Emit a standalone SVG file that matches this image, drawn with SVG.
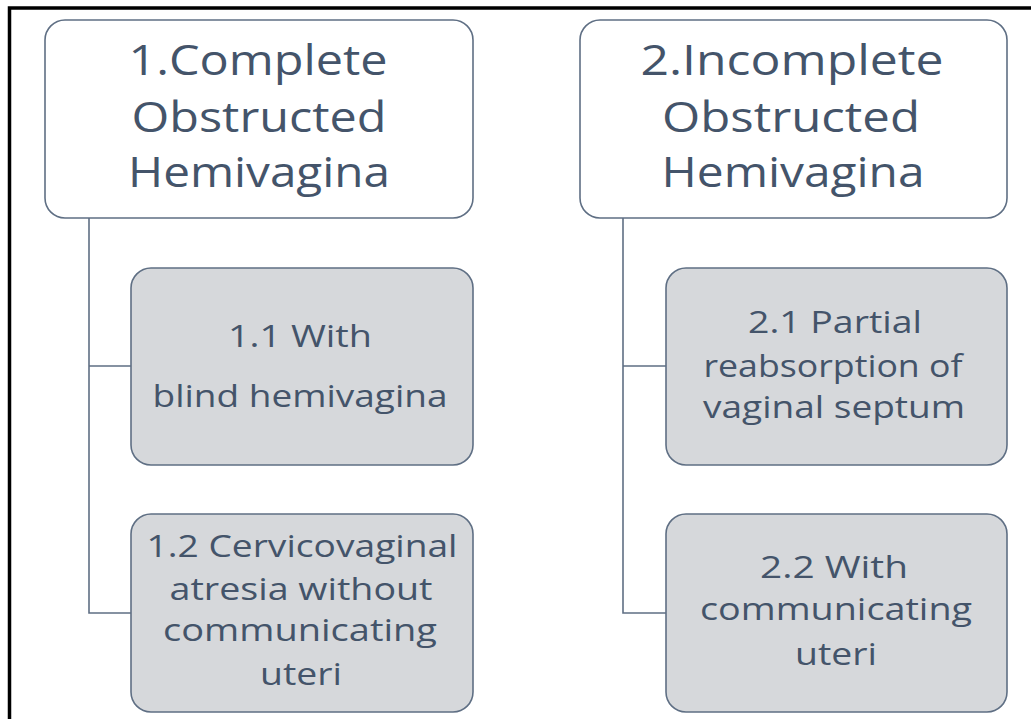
<svg xmlns="http://www.w3.org/2000/svg" width="1031" height="719" viewBox="0 0 1031 719">
<style>
.frame{fill:none;stroke:#000;stroke-width:3.5}
.top{fill:#fff;stroke:#5f6f84;stroke-width:1.6}
.sub{fill:#d6d8db;stroke:#5f6f84;stroke-width:1.6}
.conn{fill:none;stroke:#5f6f84;stroke-width:1.6}
text{font-family:"Open Sans","Liberation Sans",sans-serif;fill:#44546a;text-anchor:middle}
.t{font-size:42px}
.s{font-size:31px}
</style>
<rect width="1031" height="719" fill="#fff"/>
<path class="frame" d="M9.5,719 V8 H1031"/>
<g id="connectors">
<path class="conn" d="M89,218 V613 H131 M89,366 H131"/>
<path class="conn" d="M623,218 V613 H666 M623,366 H666"/>
</g>
<g id="node1">
<rect class="top" x="45" y="20" width="428" height="198" rx="20"/>
<text class="t" x="258" y="75" textLength="259" lengthAdjust="spacingAndGlyphs">1.Complete</text>
<text class="t" x="259" y="132" textLength="255" lengthAdjust="spacingAndGlyphs">Obstructed</text>
<text class="t" x="259" y="187" textLength="262" lengthAdjust="spacingAndGlyphs">Hemivagina</text>
</g>
<g id="node2">
<rect class="top" x="580" y="20" width="427" height="198" rx="20"/>
<text class="t" x="792" y="75" textLength="303" lengthAdjust="spacingAndGlyphs">2.Incomplete</text>
<text class="t" x="791" y="132" textLength="258" lengthAdjust="spacingAndGlyphs">Obstructed</text>
<text class="t" x="793" y="187" textLength="263" lengthAdjust="spacingAndGlyphs">Hemivagina</text>
</g>
<g id="node1-1">
<rect class="sub" x="131" y="268" width="342" height="197" rx="20"/>
<text class="s" x="300" y="347" textLength="144" lengthAdjust="spacingAndGlyphs">1.1 With</text>
<text class="s" x="300" y="407" textLength="295" lengthAdjust="spacingAndGlyphs">blind hemivagina</text>
</g>
<g id="node1-2">
<rect class="sub" x="131" y="514" width="342" height="198" rx="20"/>
<text class="s" x="302" y="557" textLength="311" lengthAdjust="spacingAndGlyphs">1.2 Cervicovaginal</text>
<text class="s" x="301" y="600" textLength="263" lengthAdjust="spacingAndGlyphs">atresia without</text>
<text class="s" x="300" y="641" textLength="274" lengthAdjust="spacingAndGlyphs">communicating</text>
<text class="s" x="301" y="685" textLength="82" lengthAdjust="spacingAndGlyphs">uteri</text>
</g>
<g id="node2-1">
<rect class="sub" x="666" y="268" width="341" height="197" rx="20"/>
<text class="s" x="835" y="333" textLength="174" lengthAdjust="spacingAndGlyphs">2.1 Partial</text>
<text class="s" x="833" y="377" textLength="259" lengthAdjust="spacingAndGlyphs">reabsorption of</text>
<text class="s" x="834" y="418" textLength="262" lengthAdjust="spacingAndGlyphs">vaginal septum</text>
</g>
<g id="node2-2">
<rect class="sub" x="666" y="514" width="341" height="198" rx="20"/>
<text class="s" x="834" y="578" textLength="148" lengthAdjust="spacingAndGlyphs">2.2 With</text>
<text class="s" x="836" y="620" textLength="272" lengthAdjust="spacingAndGlyphs">communicating</text>
<text class="s" x="836" y="665" textLength="82" lengthAdjust="spacingAndGlyphs">uteri</text>
</g>
</svg>
